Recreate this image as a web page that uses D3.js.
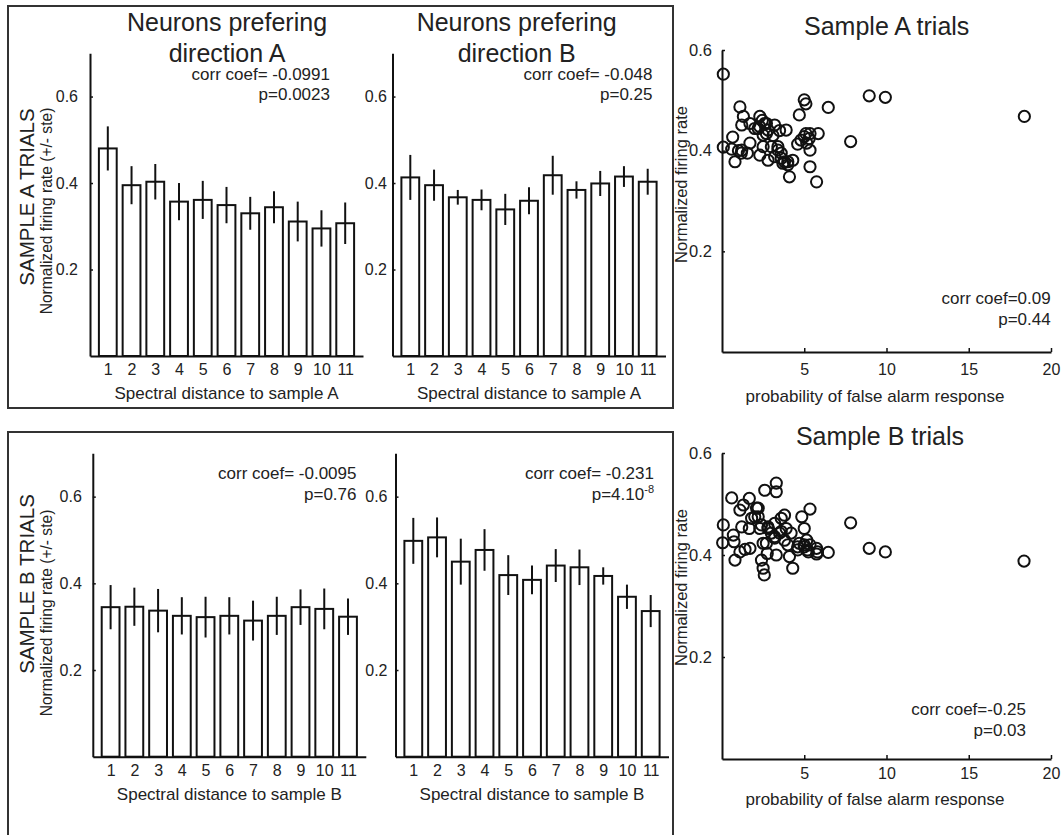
<!DOCTYPE html>
<html>
<head>
<meta charset="utf-8">
<script src="https://cdn.jsdelivr.net/npm/d3@7"></script>
<style>
  html, body { margin: 0; padding: 0; background: #fff; }
  svg { display: block; }
  text { font-family: "Liberation Sans", Arial, Helvetica, sans-serif; fill: #222; }
</style>
</head>
<body>
<svg id="chart" width="1063" height="835"></svg>
<script>
// ---------------- DATA ----------------
const distances = [1, 2, 3, 4, 5, 6, 7, 8, 9, 10, 11];
const yTicksBar = [0.2, 0.4, 0.6];
const yTicksScatter = [0.2, 0.4, 0.6];
const xTicksScatter = [5, 10, 15, 20];

// Sample A trials, neurons preferring direction A
const aTrialsPrefA = [0.480, 0.395, 0.403, 0.357, 0.361, 0.349, 0.330, 0.344, 0.311, 0.295, 0.307];
const aTrialsPrefAErr = [0.051, 0.044, 0.041, 0.043, 0.044, 0.042, 0.038, 0.037, 0.046, 0.042, 0.048];
// Sample A trials, neurons preferring direction B
const aTrialsPrefB = [0.413, 0.395, 0.367, 0.361, 0.339, 0.359, 0.418, 0.384, 0.399, 0.415, 0.403];
const aTrialsPrefBErr = [0.052, 0.036, 0.017, 0.024, 0.036, 0.031, 0.045, 0.020, 0.029, 0.024, 0.030];
// Sample B trials, neurons preferring direction A
const bTrialsPrefA = [0.345, 0.346, 0.337, 0.325, 0.322, 0.325, 0.314, 0.325, 0.345, 0.341, 0.323];
const bTrialsPrefAErr = [0.051, 0.044, 0.050, 0.043, 0.047, 0.043, 0.046, 0.044, 0.041, 0.047, 0.042];
// Sample B trials, neurons preferring direction B
const bTrialsPrefB = [0.498, 0.506, 0.450, 0.477, 0.419, 0.408, 0.441, 0.437, 0.417, 0.369, 0.336];
const bTrialsPrefBErr = [0.053, 0.046, 0.053, 0.048, 0.046, 0.033, 0.038, 0.041, 0.020, 0.028, 0.037];

// Scatter: Sample A trials (false alarm probability, normalized firing rate)
const scatterAx = [0.08, 0.08, 0.65, 0.59, 0.79, 1.09, 1.30, 1.20, 1.20, 1.54, 1.70, 1.70, 2.20, 2.30, 2.30, 2.50, 2.70, 2.70, 2.80, 3.00,
  3.20, 3.20, 3.40, 3.60, 3.70, 3.90, 4.00, 4.10, 4.30, 4.70, 4.60, 4.80, 5.00, 5.00, 5.10, 5.15, 5.35, 5.35, 5.35, 5.85,
  5.75, 6.46, 7.82, 8.95, 9.93, 18.38, 2.29, 2.60, 2.80, 2.50, 1.99, 3.40, 3.60, 3.80, 4.00, 1.17, 5.10, 5.30, 2.45, 3.50, 3.10, 1.00];
const scatterAy = [0.552, 0.407, 0.427, 0.403, 0.378, 0.487, 0.468, 0.451, 0.401, 0.395, 0.415, 0.454, 0.444, 0.468, 0.391, 0.408, 0.454, 0.434, 0.381, 0.408,
  0.451, 0.388, 0.408, 0.395, 0.375, 0.441, 0.378, 0.348, 0.381, 0.471, 0.413, 0.421, 0.428, 0.501, 0.493, 0.415, 0.401, 0.368, 0.434, 0.434,
  0.338, 0.486, 0.418, 0.509, 0.506, 0.468, 0.448, 0.454, 0.441, 0.431, 0.444, 0.401, 0.385, 0.378, 0.372, 0.395, 0.434, 0.424, 0.460, 0.440, 0.430, 0.400];

// Scatter: Sample B trials
const scatterBx = [0.08, 0.04, 0.59, 0.69, 0.73, 0.79, 1.09, 1.30, 1.20, 1.09, 1.40, 1.70, 1.66, 1.80, 1.66, 2.10, 2.20, 2.30, 2.40, 2.50,
  2.57, 2.60, 2.50, 2.70, 2.75, 2.80, 3.00, 3.20, 3.20, 3.30, 3.30, 3.30, 3.50, 3.60, 3.80, 3.90, 4.00, 4.10, 4.20, 4.30,
  4.60, 4.70, 4.85, 5.00, 5.00, 5.15, 5.25, 5.35, 5.35, 5.75, 5.75, 6.46, 7.82, 8.95, 9.93, 18.36, 1.99, 2.20, 2.40, 2.80,
  3.20, 3.60, 3.80, 4.60, 5.00, 5.20, 5.80];
const scatterBy = [0.459, 0.424, 0.512, 0.439, 0.426, 0.390, 0.488, 0.498, 0.455, 0.406, 0.411, 0.413, 0.511, 0.472, 0.452, 0.492, 0.475, 0.452, 0.390, 0.374,
  0.361, 0.527, 0.423, 0.423, 0.403, 0.455, 0.443, 0.462, 0.433, 0.541, 0.524, 0.400, 0.443, 0.472, 0.478, 0.452, 0.420, 0.397, 0.443, 0.374,
  0.410, 0.423, 0.475, 0.452, 0.416, 0.429, 0.406, 0.490, 0.420, 0.413, 0.402, 0.405, 0.463, 0.413, 0.406, 0.388, 0.475, 0.492, 0.459, 0.452,
  0.436, 0.446, 0.429, 0.416, 0.420, 0.410, 0.406];

// ---------------- DRAWING ----------------
const svg = d3.select("#chart");
const INK = "#111";

// panel frames
svg.append("rect").attr("x", 8).attr("y", 6).attr("width", 665).attr("height", 402)
  .attr("fill", "none").attr("stroke", "#333").attr("stroke-width", 2);
svg.append("rect").attr("x", 8).attr("y", 432).attr("width", 665).attr("height", 430)
  .attr("fill", "none").attr("stroke", "#333").attr("stroke-width", 2);

function styleAxis(g, size) {
  g.attr("font-family", null).attr("font-size", null);
  g.selectAll("text").style("font-size", size + "px").attr("fill", "#222");
  g.select(".domain").attr("stroke", INK).attr("stroke-width", 2);
  g.selectAll(".tick line").attr("stroke", INK).attr("stroke-width", 1.5);
}

function barPanel(cfg) {
  const x = d3.scaleLinear().domain([0.25, 11.75]).range([cfg.x0, cfg.x1]);
  const y = d3.scaleLinear().domain([0, 0.7]).range([cfg.y0, cfg.y1]);
  const step = x(2) - x(1);
  const bw = step * 0.75;
  const g = svg.append("g");

  g.selectAll("rect.bar").data(cfg.means).join("rect")
    .attr("class", "bar")
    .attr("x", (d, i) => x(distances[i]) - bw / 2)
    .attr("y", d => y(d))
    .attr("width", bw)
    .attr("height", d => y(0) - y(d))
    .attr("fill", "#fff").attr("stroke", INK).attr("stroke-width", 2);

  g.selectAll("line.err").data(cfg.means).join("line")
    .attr("class", "err")
    .attr("x1", (d, i) => x(distances[i])).attr("x2", (d, i) => x(distances[i]))
    .attr("y1", (d, i) => y(d + cfg.errs[i])).attr("y2", (d, i) => y(d - cfg.errs[i]))
    .attr("stroke", INK).attr("stroke-width", 2);

  const ya = g.append("g").attr("transform", `translate(${cfg.x0},0)`)
    .call(d3.axisLeft(y).tickValues(yTicksBar).tickFormat(d3.format(".1f"))
      .tickSizeInner(-3).tickSizeOuter(0).tickPadding(cfg.yPad));
  styleAxis(ya, 16);

  const xa = g.append("g").attr("transform", `translate(0,${cfg.y0})`)
    .call(d3.axisBottom(x).tickValues(distances).tickFormat(d3.format("d"))
      .tickSizeInner(0).tickSizeOuter(0).tickPadding(7.7));
  styleAxis(xa, 16);

  // x label
  g.append("text").attr("x", (cfg.x0 + cfg.x1) / 2).attr("y", cfg.y0 + 43)
    .attr("text-anchor", "middle").style("font-size", "17px").text(cfg.xlabel);

  // corr text
  g.append("text").attr("x", cfg.cx).attr("y", cfg.cy)
    .attr("text-anchor", "end").style("font-size", "17px").text(cfg.corr);
  const p = g.append("text").attr("x", cfg.cx).attr("y", cfg.cy + 20.5)
    .attr("text-anchor", "end").style("font-size", "17px");
  p.append("tspan").text(cfg.p);
  if (cfg.pSup) {
    p.append("tspan").attr("dy", -7).style("font-size", "11px").text(cfg.pSup);
  }
}

// top-left
barPanel({ x0: 90, x1: 363, y0: 356, y1: 53.3, means: aTrialsPrefA, errs: aTrialsPrefAErr, yPad: 12,
  xlabel: "Spectral distance to sample A", corr: "corr coef= -0.0991", p: "p=0.0023", cx: 330, cy: 79.5 });
// top-middle
barPanel({ x0: 392.5, x1: 665.5, y0: 356, y1: 53.3, means: aTrialsPrefB, errs: aTrialsPrefBErr, yPad: 5.5,
  xlabel: "Spectral distance to sample A", corr: "corr coef= -0.048", p: "p=0.25", cx: 652.5, cy: 79.5 });
// bottom-left
barPanel({ x0: 92.8, x1: 365.8, y0: 756.7, y1: 453.3, means: bTrialsPrefA, errs: bTrialsPrefAErr, yPad: 11,
  xlabel: "Spectral distance to sample B", corr: "corr coef= -0.0095", p: "p=0.76", cx: 356.5, cy: 479 });
// bottom-middle
barPanel({ x0: 395.5, x1: 668.5, y0: 756.7, y1: 453.3, means: bTrialsPrefB, errs: bTrialsPrefBErr, yPad: 8,
  xlabel: "Spectral distance to sample B", corr: "corr coef= -0.231", p: "p=4.10", pSup: "-8", cx: 654, cy: 479 });

// titles of bar columns
function title(lines, cx, y0, lh) {
  const t = svg.append("text").attr("text-anchor", "middle").style("font-size", "25px");
  lines.forEach((l, i) => t.append("tspan").attr("x", cx).attr("y", y0 + i * lh).text(l));
}
title(["Neurons prefering", "direction A"], 227, 31, 31);
title(["Neurons prefering", "direction B"], 516.7, 31, 31);

// row labels
function vtext(txt, x, y, size) {
  svg.append("text").attr("transform", `translate(${x},${y}) rotate(-90)`)
    .attr("text-anchor", "middle").style("font-size", size + "px").text(txt);
}
vtext("SAMPLE A TRIALS", 33.5, 197, 20.5);
vtext("Normalized firing rate (+/- ste)", 52, 211, 15.6);
vtext("SAMPLE B TRIALS", 33.5, 584, 20.5);
vtext("Normalized firing rate (+/- ste)", 52, 613, 15.6);

// scatter panels
function scatterPanel(cfg) {
  const x = d3.scaleLinear().domain([0, 20]).range([722, 1051]);
  const y = d3.scaleLinear().domain([0, 0.6]).range([cfg.y0, cfg.y1]);
  const g = svg.append("g");

  const ya = g.append("g").attr("transform", "translate(722,0)")
    .call(d3.axisLeft(y).tickValues(yTicksScatter).tickFormat(d3.format(".1f"))
      .tickSizeInner(-3).tickSizeOuter(0).tickPadding(10));
  styleAxis(ya, 16.5);
  const xa = g.append("g").attr("transform", `translate(0,${cfg.y0})`)
    .call(d3.axisBottom(x).tickValues(xTicksScatter).tickFormat(d3.format("d"))
      .tickSizeInner(-4).tickSizeOuter(0).tickPadding(cfg.xPad));
  styleAxis(xa, 16);

  g.selectAll("circle").data(cfg.xs).join("circle")
    .attr("cx", d => x(d)).attr("cy", (d, i) => y(cfg.ys[i]))
    .attr("r", 5.6).attr("fill", "none").attr("stroke", INK).attr("stroke-width", 2);

  g.append("text").attr("x", cfg.tx).attr("y", cfg.ty).attr("text-anchor", "middle")
    .style("font-size", "25px").text(cfg.title);
  g.append("text").attr("x", 875).attr("y", cfg.y0 + cfg.xlOff).attr("text-anchor", "middle")
    .style("font-size", "17px").text("probability of false alarm response");
  g.append("text").attr("transform", `translate(687,${cfg.ly}) rotate(-90)`).attr("text-anchor", "middle")
    .style("font-size", "16.5px").text("Normalized firing rate");
  g.append("text").attr("x", cfg.cx).attr("y", cfg.cy).attr("text-anchor", "end")
    .style("font-size", "17px").text(cfg.corr);
  g.append("text").attr("x", cfg.cx).attr("y", cfg.cy + 20.5).attr("text-anchor", "end")
    .style("font-size", "17px").text(cfg.p);
}
scatterPanel({ y0: 352, y1: 50, xs: scatterAx, ys: scatterAy, xPad: 11.5, xlOff: 49.5,
  title: "Sample A trials", tx: 886.7, ty: 35, ly: 184.5,
  corr: "corr coef=0.09", p: "p=0.44", cx: 1050.7, cy: 304 });
scatterPanel({ y0: 759, y1: 453, xs: scatterBx, ys: scatterBy, xPad: 8.5, xlOff: 46,
  title: "Sample B trials", tx: 880, ty: 445, ly: 587.5,
  corr: "corr coef=-0.25", p: "p=0.03", cx: 1026, cy: 715 });
</script>
</body>
</html>
